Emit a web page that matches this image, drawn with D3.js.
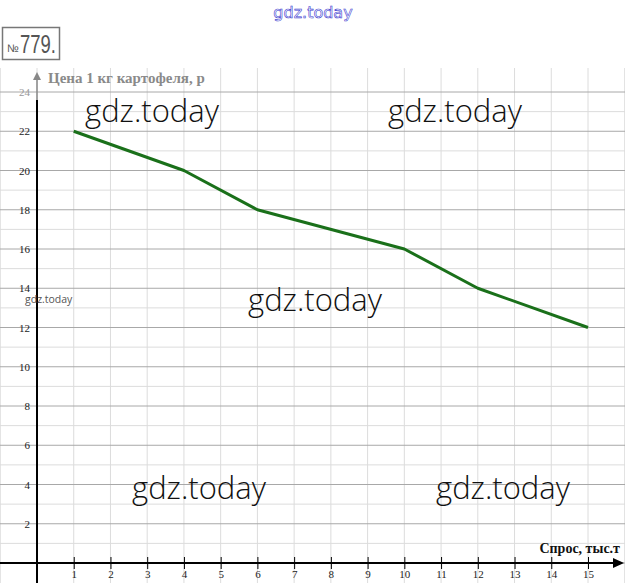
<!DOCTYPE html>
<html><head><meta charset="utf-8">
<script src="https://cdn.jsdelivr.net/npm/d3@7"></script>
<style>body{margin:0;background:#fff}svg{display:block}</style>
</head><body>
<script>
const demand = [1, 4, 6, 10, 12, 15];
const price = [22, 20, 18, 16, 14, 12];
const xTicks = [1,2,3,4,5,6,7,8,9,10,11,12,13,14,15];
const yTicks = [2,4,6,8,10,12,14,16,18,20,22,24];
const xTitle = "Спрос, тыс.т";
const yTitle = "Цена 1 кг картофеля, р";
const watermark = "gdz.today";

const W = 625, H = 583;
const svg = d3.select("body").append("svg").attr("width", W).attr("height", H);
const x = d3.scaleLinear().domain([0, 15]).range([37, 588]);
const y = d3.scaleLinear().domain([0, 24]).range([563, 92]);

// grid
const g = svg.append("g");
d3.range(-1, 17).forEach(v => {
  g.append("line").attr("x1", x(v)).attr("x2", x(v)).attr("y1", 68).attr("y2", H)
    .attr("stroke", "#dcdcdc").attr("stroke-width", 1);
});
d3.range(0, 25).forEach(v => {
  g.append("line").attr("x1", 0).attr("x2", W).attr("y1", y(v)).attr("y2", y(v))
    .attr("stroke", v % 2 === 0 ? "#a8a8a8" : "#dcdcdc").attr("stroke-width", 1);
});

// axes
svg.append("line").attr("x1", 0).attr("x2", 617).attr("y1", y(0)).attr("y2", y(0))
  .attr("stroke", "#000").attr("stroke-width", 2);
svg.append("path").attr("d", `M624,${y(0)} L613,${y(0)-5} L613,${y(0)+5} Z`).attr("fill", "#000");
svg.append("line").attr("x1", x(0)).attr("x2", x(0)).attr("y1", 100).attr("y2", H)
  .attr("stroke", "#000").attr("stroke-width", 2);
svg.append("line").attr("x1", x(0)).attr("x2", x(0)).attr("y1", 78).attr("y2", 100)
  .attr("stroke", "#888").attr("stroke-width", 1.5);
svg.append("path").attr("d", `M${x(0)},72 L${x(0)-4},80 L${x(0)+4},80 Z`).attr("fill", "#888");

const xAxis = d3.axisBottom(x).tickValues(xTicks).tickSize(6).tickFormat(d3.format("d"));
const xa = svg.append("g").attr("transform", `translate(0,${y(0)})`).call(xAxis);
xa.select(".domain").remove();
xa.selectAll(".tick line").attr("y1", -6).attr("stroke", "#000");
xa.selectAll(".tick text").attr("font-family", "Liberation Serif, serif").attr("font-size", 11)
  .attr("fill", "#222").attr("dy", "0.5em");

const yAxis = d3.axisLeft(y).tickValues(yTicks).tickSize(0).tickPadding(7).tickFormat(d3.format("d"));
const ya = svg.append("g").attr("transform", `translate(${x(0)},0)`).call(yAxis);
ya.select(".domain").remove();
ya.selectAll(".tick text").attr("font-family", "Liberation Serif, serif").attr("font-size", 11)
  .attr("fill", d => d === 24 ? "#999" : "#222");

// titles
svg.append("text").attr("x", 48).attr("y", 83).text(yTitle)
  .attr("font-family", "Liberation Serif, serif").attr("font-weight", "bold")
  .attr("font-size", 15).attr("fill", "#8a8a8a");
svg.append("text").attr("x", 620).attr("y", 553).attr("text-anchor", "end").text(xTitle)
  .attr("font-family", "Liberation Serif, serif").attr("font-weight", "bold")
  .attr("font-size", 14).attr("fill", "#111");

// data line
const line = d3.line().x((d, i) => x(demand[i])).y(d => y(d));
svg.append("path").datum(price).attr("d", line).attr("fill", "none")
  .attr("stroke", "#1a701a").attr("stroke-width", 3).attr("stroke-linejoin", "round");

// number box
svg.append("rect").attr("x", 2.5).attr("y", 27.5).attr("width", 57).attr("height", 32)
  .attr("fill", "#fff").attr("stroke", "#777").attr("stroke-width", 1.5);
svg.append("text").attr("x", 7).attr("y", 52).attr("font-family", "Liberation Sans, sans-serif")
  .attr("fill", "#555").attr("font-size", 11).text("№");
svg.append("text").attr("x", 20).attr("y", 53).attr("font-family", "Liberation Sans, sans-serif")
  .attr("fill", "#555").attr("font-size", 25).attr("textLength", 36).attr("lengthAdjust", "spacingAndGlyphs")
  .text("779.");

// watermarks
svg.append("text").attr("x", 313).attr("y", 18).attr("text-anchor", "middle").text(watermark)
  .attr("font-family", "DejaVu Sans, sans-serif").attr("font-size", 16)
  .attr("fill", "#fff").attr("stroke", "#3a3ad0").attr("stroke-width", 0.6);
const wm = [[152, 122], [455, 122], [315, 311], [199, 499], [503, 499]];
wm.forEach(([cx, cy]) => {
  svg.append("text").attr("x", cx).attr("y", cy).attr("text-anchor", "middle").text(watermark)
    .attr("font-family", "Open Sans, sans-serif").attr("font-weight", 300)
    .attr("font-size", 31).attr("fill", "#111");
});
svg.append("text").attr("x", 25).attr("y", 303).text(watermark)
  .attr("font-family", "Open Sans, sans-serif").attr("font-size", 10.5).attr("fill", "#555");
</script>
</body></html>
